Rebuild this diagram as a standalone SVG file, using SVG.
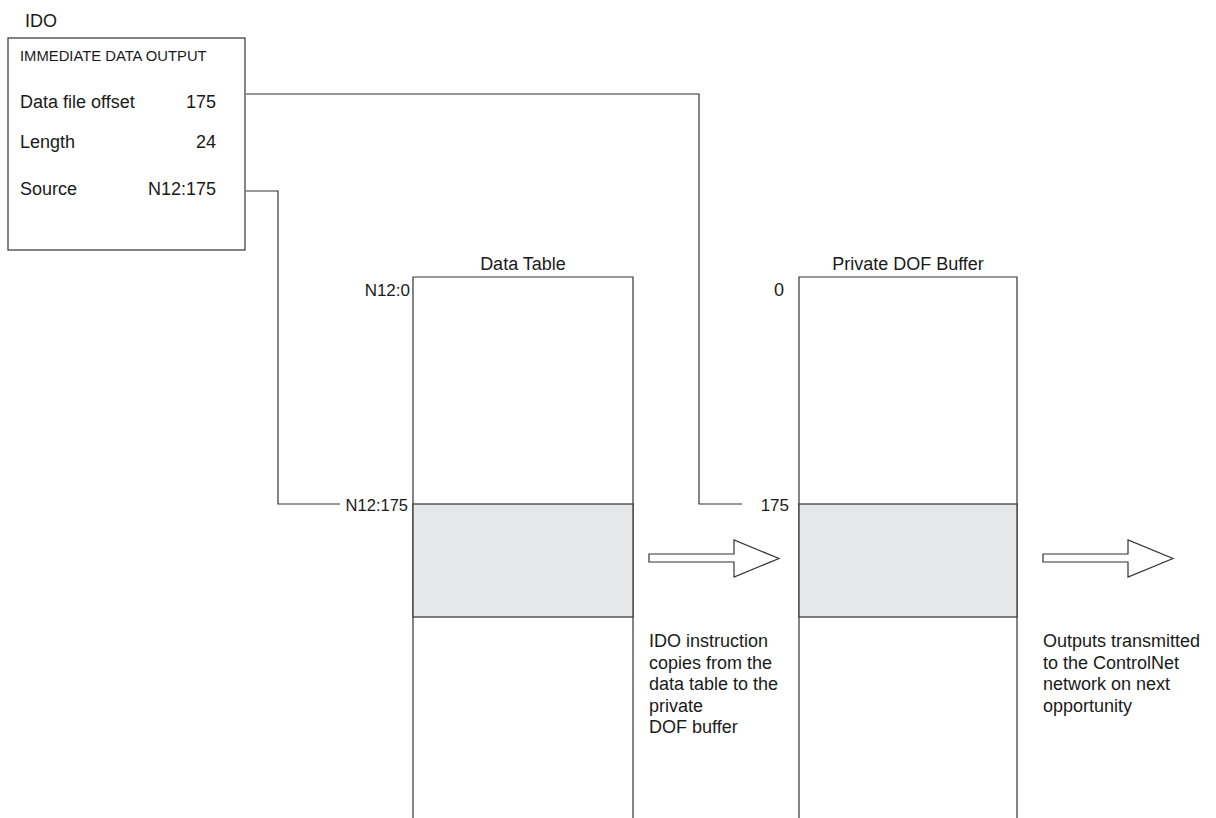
<svg xmlns="http://www.w3.org/2000/svg" width="1216" height="818" viewBox="0 0 1216 818">
<style>
text{font-family:"Liberation Sans",Arial,sans-serif;fill:#1a1a1a;font-size:18px}
.ln{fill:none;stroke:#333;stroke-width:1.2}
.col{fill:#fff;stroke:#333;stroke-width:1.2}
.shade{fill:#e6e7e8;stroke:#333;stroke-width:1.2}
.arr{fill:#fff;stroke:#333;stroke-width:1.2}
.end{text-anchor:end}
.mid{text-anchor:middle}
</style>
<rect width="1216" height="818" fill="#fff"/>
<g id="connectors">
<path class="ln" d="M246,94 H699 V504 H742"/>
<path class="ln" d="M246,191 H278 V504 H340"/>
</g>
<g id="ido">
<text x="25" y="27" font-size="16">IDO</text>
<rect x="8" y="38" width="237" height="212" class="col"/>
<text x="20" y="61" style="font-size:14.8px">IMMEDIATE DATA OUTPUT</text>
<text x="20" y="108">Data file offset</text>
<text x="216" y="108" class="end">175</text>
<text x="20" y="148">Length</text>
<text x="216" y="148" class="end">24</text>
<text x="20" y="195">Source</text>
<text x="216" y="195" class="end">N12:175</text>
</g>
<g id="data-table">
<text x="523" y="270" class="mid">Data Table</text>
<path class="col" d="M413,818 V277 H633 V818"/>
<rect x="413" y="504" width="220" height="113" class="shade"/>
<text x="410" y="296" class="end" style="font-size:17px">N12:0</text>
<text x="408" y="511" class="end" style="font-size:16.5px">N12:175</text>
</g>
<g id="dof-buffer">
<text x="908" y="270" class="mid">Private DOF Buffer</text>
<path class="col" d="M799,818 V277 H1017 V818"/>
<rect x="799" y="504" width="218" height="113" class="shade"/>
<text x="784" y="296" class="end">0</text>
<text x="789" y="511" class="end" style="font-size:17px">175</text>
</g>
<g id="copy-arrow">
<polygon class="arr" points="649,554 734,554 734,540 779,558.5 734,577 734,562 649,562"/>
<text x="649" y="647">IDO instruction</text>
<text x="649" y="669">copies from the</text>
<text x="649" y="690">data table to the</text>
<text x="649" y="712">private</text>
<text x="649" y="733">DOF buffer</text>
</g>
<g id="transmit-arrow">
<polygon class="arr" points="1043,554 1128,554 1128,540 1173,558.5 1128,577 1128,562 1043,562"/>
<text x="1043" y="647">Outputs transmitted</text>
<text x="1043" y="669">to the ControlNet</text>
<text x="1043" y="690">network on next</text>
<text x="1043" y="712">opportunity</text>
</g>
</svg>
